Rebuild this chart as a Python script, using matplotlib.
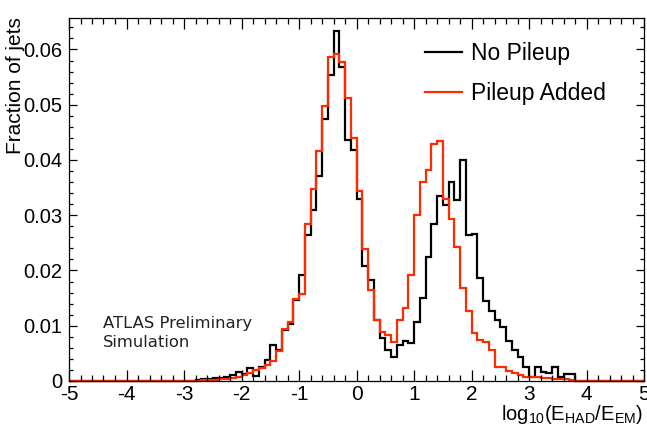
import numpy as np
import matplotlib
matplotlib.use("Agg")
import matplotlib.pyplot as plt
from matplotlib.ticker import MultipleLocator, FuncFormatter

plt.rcParams['font.family'] = ['Liberation Sans', 'DejaVu Sans']
plt.rcParams['axes.unicode_minus'] = False
plt.rcParams['mathtext.fontset'] = 'custom'
plt.rcParams['mathtext.rm'] = 'Liberation Sans'
plt.rcParams['mathtext.it'] = 'Liberation Sans'

# histogram binning: 100 bins of 0.1 between -5 and 5
bin_edges = np.round(np.arange(-5.0, 5.0001, 0.1), 1)

# fraction of jets per bin (one row per unit of log10(E_HAD/E_EM))
no_pileup = [
    0, 0, 0, 0, 0, 0, 0, 0, 0, 0,
    0, 0, 0, 0, 0, 0, 0, 0, 0, 0,
    0, 0, 0.0002, 0.0004, 0.0004, 0.0005, 0.0006, 0.0007, 0.0011, 0.0017,
    0.0013, 0.0023, 0.0009, 0.0025, 0.0038, 0.0066, 0.0056, 0.0093, 0.0103, 0.0146,
    0.0192, 0.0264, 0.0309, 0.0371, 0.0474, 0.0554, 0.0633, 0.0568, 0.0436, 0.0418,
    0.0330, 0.0208, 0.0183, 0.0110, 0.0077, 0.0056, 0.0044, 0.0065, 0.0073, 0.0069,
    0.0107, 0.0151, 0.0225, 0.0284, 0.0334, 0.0319, 0.0361, 0.0328, 0.0400, 0.0264,
    0.0266, 0.0186, 0.0145, 0.0127, 0.0110, 0.0097, 0.0073, 0.0056, 0.0043, 0.0025,
    0.0007, 0.0025, 0.0017, 0.0015, 0.0025, 0.0008, 0.0013, 0.0013, 0, 0,
    0, 0, 0, 0, 0, 0, 0, 0, 0, 0,
]
pileup_added = [
    0, 0, 0, 0, 0, 0, 0, 0, 0, 0,
    0, 0, 0, 0, 0, 0, 0, 0, 0, 0,
    0, 0, 0, 0.0001, 0.0002, 0.0002, 0.0003, 0.0004, 0.0005, 0.0007,
    0.0011, 0.0015, 0.0020, 0.0024, 0.0029, 0.0037, 0.0054, 0.0095, 0.0107, 0.0148,
    0.0157, 0.0285, 0.0348, 0.0417, 0.0498, 0.0586, 0.0592, 0.0577, 0.0513, 0.0440,
    0.0343, 0.0239, 0.0164, 0.0110, 0.0089, 0.0083, 0.0071, 0.0110, 0.0132, 0.0191,
    0.0301, 0.0361, 0.0382, 0.0429, 0.0434, 0.0330, 0.0293, 0.0243, 0.0168, 0.0127,
    0.0086, 0.0075, 0.0070, 0.0057, 0.0026, 0.0025, 0.0019, 0.0014, 0.0010, 0.0008,
    0.0007, 0.0007, 0.0005, 0.0005, 0.0004, 0.0003, 0.0003, 0.0002, 0, 0,
    0, 0, 0, 0, 0, 0, 0, 0, 0, 0,
]

fig = plt.figure(figsize=(6.47, 4.30), dpi=100)
ax = fig.add_axes([69 / 647, 49 / 430, 575 / 647, 363 / 430])

ax.stairs(no_pileup, bin_edges, color='black', lw=1.6, label='No Pileup', clip_on=False)
ax.stairs(pileup_added, bin_edges, color='#ff2a00', lw=1.6, label='Pileup Added', clip_on=False)

ax.set_xlim(-5, 5)
ax.set_ylim(0, 0.0657)

ax.xaxis.set_major_locator(MultipleLocator(1))
ax.xaxis.set_minor_locator(MultipleLocator(0.2))
ax.yaxis.set_major_locator(MultipleLocator(0.01))
ax.yaxis.set_minor_locator(MultipleLocator(0.002))
ax.yaxis.set_major_formatter(FuncFormatter(lambda v, p: '0' if abs(v) < 1e-9 else f'{v:.2f}'))

ax.tick_params(axis='both', which='both', direction='in', top=True, right=True,
               width=0.9, labelsize=15)
ax.tick_params(axis='x', which='major', length=8, pad=3)
ax.tick_params(axis='x', which='minor', length=4.3)
ax.tick_params(axis='y', which='major', length=6, pad=5, labelsize=14.5)
ax.tick_params(axis='y', which='minor', length=3)
for s in ax.spines.values():
    s.set_linewidth(0.9)

# axis titles, ROOT style: x title at the right end, y title at the top
ax.set_xlabel(r'log$_{10}$(E$_{HAD}$/E$_{EM}$)', fontsize=14.5, loc='right')
ax.xaxis.set_label_coords(1 - 1 / 575, -22 / 363)
ax.xaxis.label.set_va('top')
ax.set_ylabel('Fraction of jets', fontsize=15, loc='top')
ax.yaxis.set_label_coords(-(69 - 25) / 575, 1 + 1 / 363)

ax.text(0.059, 0.18, 'ATLAS Preliminary\nSimulation', transform=ax.transAxes,
        fontsize=11.8, family='DejaVu Sans', color='#222222', va='top',
        linespacing=1.4)

ax.legend(loc='upper left', bbox_to_anchor=(425 / 647, 1 - 42 / 430),
          bbox_transform=fig.transFigure, frameon=False, fontsize=16.5,
          handlelength=1.6, handletextpad=0.4, labelspacing=0.75, borderpad=0,
          borderaxespad=0)

fig.savefig('out.png', dpi=100)
